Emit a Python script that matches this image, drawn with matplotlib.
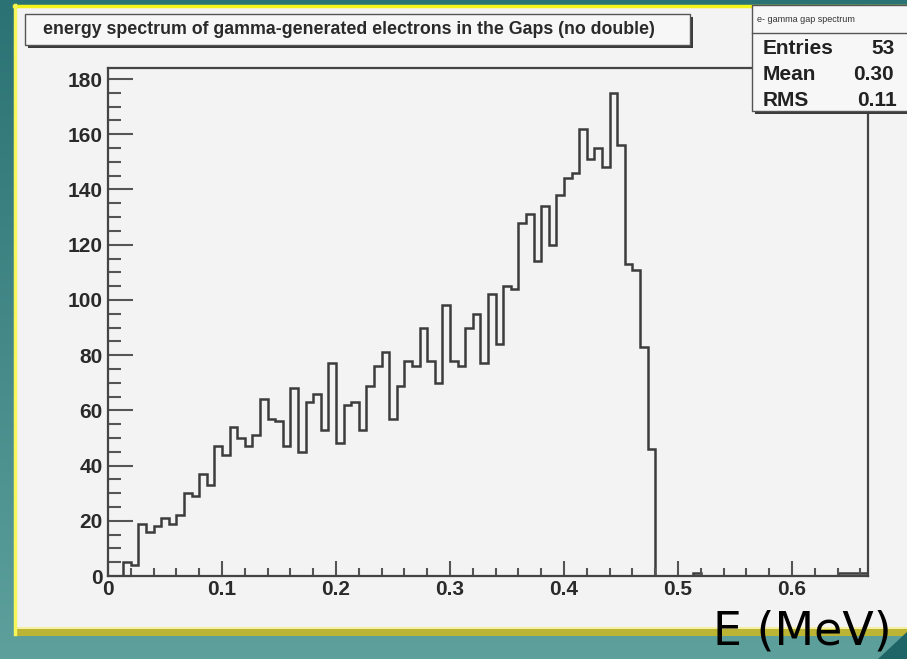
import numpy as np
import matplotlib.pyplot as plt
from matplotlib.patches import Rectangle, Polygon

# Energy spectrum, 100 bins from 0 to 0.6667 MeV
e_min, e_max, n_bins = 0.0, 0.6667, 100
counts = [0, 0, 5, 4, 19, 16, 18, 21, 19, 22,
          30, 29, 37, 33, 47, 44, 54, 50, 47, 51,
          64, 57, 56, 47, 68, 45, 63, 66, 53, 77,
          48, 62, 63, 53, 69, 76, 81, 57, 69, 78,
          76, 90, 78, 70, 98, 78, 76, 90, 95, 77,
          102, 84, 105, 104, 128, 131, 114, 134, 120, 138,
          144, 146, 162, 151, 155, 148, 175, 156, 113, 111,
          83, 46, 0, 0, 0, 0, 0, 1, 0, 0,
          0, 0, 0, 0, 0, 0, 0, 0, 0, 0,
          0, 0, 0, 0, 0, 0, 1, 1, 1, 1]

title = "energy spectrum of gamma-generated electrons in the Gaps (no double)"
hist_name = "e- gamma gap spectrum"
stat_names = ["Entries", "Mean", "RMS"]
stat_values = ["53", "0.30", "0.11"]
x_ticks = [0, 0.1, 0.2, 0.3, 0.4, 0.5, 0.6]
x_labels = ["0", "0.1", "0.2", "0.3", "0.4", "0.5", "0.6"]
y_ticks = list(range(0, 181, 20))

W, H = 907, 659
fig = plt.figure(figsize=(W / 100, H / 100), dpi=100)


def pixel_axes(zorder):
    a = fig.add_axes([0, 0, 1, 1], zorder=zorder)
    a.set_xlim(0, W)
    a.set_ylim(H, 0)
    a.axis('off')
    a.patch.set_alpha(0)
    return a


# slide background in pixel coordinates
bg = pixel_axes(0)
grad = np.linspace(0, 1, 256).reshape(-1, 1)
top_c = np.array([0x2b, 0x72, 0x74]) / 255
bot_c = np.array([0x5d, 0xa0, 0x9c]) / 255
img = top_c + grad[..., None] * (bot_c - top_c)
bg.imshow(img, extent=[0, W, H, 0], aspect='auto')

# canvas with yellow frame
bg.add_patch(Rectangle((14, 5), W - 14, 630, facecolor='#f3f3f3', edgecolor='none'))
bg.plot([14, W], [5.5, 5.5], color='#f4f41c', lw=2.5)
bg.plot([15, 15], [5, 634], color='#f6f65a', lw=2.5)
bg.add_patch(Rectangle((14, 629), W - 14, 7, facecolor='#bcb434', edgecolor='none'))
bg.add_patch(Rectangle((14, 627), W - 14, 2, facecolor='#f4f0a0', edgecolor='none'))
bg.add_patch(Polygon([[878, 659], [907, 632], [907, 659]], closed=True,
                     facecolor='#1f6466', edgecolor='none'))

# title box with shadow
bg.add_patch(Rectangle((28, 17), 665, 31, facecolor='#3a3a3a', edgecolor='none'))
bg.add_patch(Rectangle((25, 14), 665, 31, facecolor='#f7f7f7', edgecolor='#555555', lw=1))
bg.text(349, 30, title, ha='center', va='center', fontsize=12.8,
        fontweight='bold', family='Liberation Sans', color='#2a2a2a')

# histogram frame
ax = fig.add_axes([108 / W, 1 - 576 / H, 760 / W, 508 / H], zorder=1)
ax.set_facecolor('#f3f3f3')
edges = np.linspace(e_min, e_max, n_bins + 1)
ax.stairs(counts, edges, color='#3c3c3c', lw=1.8)
ax.set_xlim(e_min, e_max)
ax.set_ylim(0, 184)

ax.set_xticks(x_ticks)
ax.set_xticklabels(x_labels)
ax.set_xticks(np.arange(0, 0.67, 0.02), minor=True)
ax.set_yticks(y_ticks)
ax.set_yticks(np.arange(0, 184, 5), minor=True)
ax.tick_params(axis='both', which='both', direction='in', color='#555555',
               width=1.5, labelcolor='#2a2a2a', labelsize=15)
ax.tick_params(axis='x', which='major', length=11, pad=3)
ax.tick_params(axis='x', which='minor', length=6)
ax.tick_params(axis='y', which='major', length=18, pad=4)
ax.tick_params(axis='y', which='minor', length=9.5)
for lab in ax.get_xticklabels() + ax.get_yticklabels():
    lab.set_fontweight('bold')
    lab.set_family('Liberation Sans')
for s in ax.spines.values():
    s.set_color('#444444')
    s.set_linewidth(1.6)

# statistics box drawn over the frame
top = pixel_axes(2)
top.add_patch(Rectangle((755, 8), 160, 106, facecolor='#3a3a3a', edgecolor='none'))
top.add_patch(Rectangle((752, 5), 160, 106, facecolor='#f7f7f7', edgecolor='#555555', lw=1))
top.plot([752, W], [33, 33], color='#555555', lw=1)
top.text(757, 19, hist_name, ha='left', va='center', fontsize=6.5,
         family='Liberation Sans', color='#333333')
value_x = [871, 853, 857]
for i, (name, val) in enumerate(zip(stat_names, stat_values)):
    y = 48 + i * 26
    top.text(763, y, name, ha='left', va='center', fontsize=15,
             fontweight='bold', family='Liberation Sans', color='#222222')
    top.text(value_x[i], y, val, ha='left', va='center', fontsize=15,
             fontweight='bold', family='Liberation Sans', color='#222222')

# slide axis caption
top.text(802, 632, "E (MeV)", ha='center', va='center',
         fontsize=33, family='DejaVu Sans', color='black')

fig.savefig('out.png', dpi=100)
